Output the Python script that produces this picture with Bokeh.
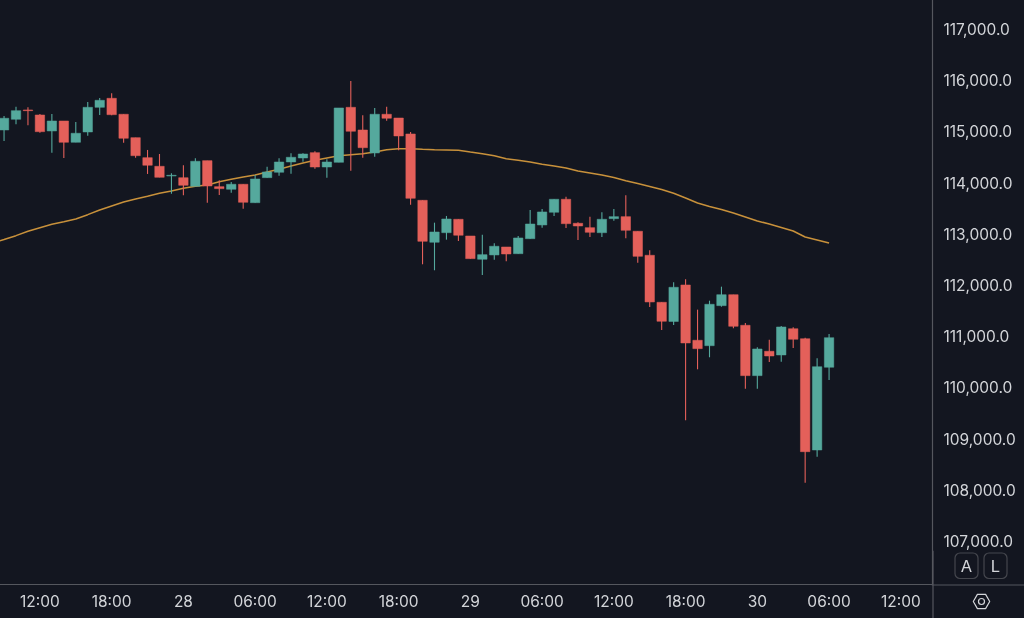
from bokeh.embed import file_html
from bokeh.resources import INLINE
from bokeh.plotting import figure
from bokeh.core.properties import value
from bokeh.models import ColumnDataSource, FixedTicker, NumeralTickFormatter
import math

opens = [115027,115236,115418,115320,115008,115203,114787,114988,115470,115646,115334,114877,114486,114318,114129,114095,113928,114428,113920,113869,113967,113607,114096,114201,114402,114480,114584,114304,114396,115470,115027,114578,115334,115261,114949,113654,112834,113021,113283,112957,112502,112586,112742,112611,112904,113172,113420,113674,113205,113119,113021,113295,113334,113049,112580,111662,111287,112000,110920,110814,111596,111810,111213,110229,110705,110633,111146,110951,108777,110393]
highs = [115300,115482,115470,115340,115340,115203,115183,115574,115652,115744,115334,114877,114637,114558,114181,114338,114474,114428,114045,114012,113967,114148,114310,114474,114572,114572,114611,114455,115457,115984,115314,115457,115482,115261,114988,113654,113217,113348,113283,112957,112982,112814,112742,112957,113465,113484,113674,113725,113225,113334,113420,113484,113752,113049,112678,111662,112053,112111,111518,111693,111967,111810,111258,110783,110932,111199,111174,110971,110568,111043]
lows = [114812,115138,115119,114974,114584,114480,114787,114916,115320,115314,114779,114486,114168,114103,113783,113752,113928,113607,113758,113803,113490,113607,114096,114135,114174,114408,114271,114096,114396,114232,114486,114506,115209,114631,113568,112404,112287,112885,112859,112514,112195,112494,112463,112611,112904,113119,113348,113113,112879,112937,112937,113256,112912,112436,111570,111121,111219,109357,110353,110588,111576,111154,109975,109975,110496,110502,110770,108139,108647,110145]
closes = [115256,115404,115404,114994,115203,114787,114963,115470,115607,115326,114865,114525,114338,114103,114142,113947,114416,113933,113881,113967,113615,114070,114207,114402,114494,114558,114304,114402,115457,115002,114681,115334,115256,114910,113693,112853,113035,113289,112971,112514,112592,112756,112605,112918,113191,113426,113674,113197,113152,113029,113283,113334,113068,112560,111668,111291,111955,110867,110756,111623,111810,111193,110229,110750,110613,111180,110939,108744,110404,110971]
ema = [112889,112963,113049,113119,113185,113236,113289,113373,113465,113543,113621,113680,113732,113791,113836,113889,113928,113953,114017,114064,114109,114148,114207,114260,114324,114383,114435,114480,114525,114545,114564,114597,114642,114662,114662,114650,114642,114637,114631,114597,114564,114525,114467,114435,114402,114357,114324,114285,114226,114187,114148,114099,114037,113982,113924,113865,113791,113699,113601,113533,113474,113406,113328,113250,113191,113123,113054,112937,112879,112820]
ema_before = 112818
time_ticks = [3,9,15,21,27,33,39,45,51,57,63,69,75]
time_labels = ["12:00","18:00","28","06:00","12:00","18:00","29","06:00","12:00","18:00","30","06:00","12:00"]
price_ticks = [107000,108000,109000,110000,111000,112000,113000,114000,115000,116000,117000]
button_labels = ["A", "L"]

BG = "#131620"
UP = "#55A99D"
DOWN = "#E4605A"
LINE = "#55575E"
TXT = "#D3D5D9"
FONT = "Inter"

bars = list(range(len(opens)))
cols = [UP if c >= o else DOWN for o, c in zip(opens, closes)]
src = ColumnDataSource(dict(x=bars, o=opens, h=highs, l=lows, c=closes, col=cols))

# The frame starts 4px outside the window, so its edge hairline stays out of view.
p = figure(width=1028, height=622, output_backend="svg", toolbar_location=None,
           x_range=(-0.631, 77.65), y_range=(106150, 117634),
           y_axis_location="right", min_border=0, min_border_right=92, min_border_bottom=34,
           background_fill_color=BG, border_fill_color=BG, outline_line_color=None)
p.styles = {"position": "fixed", "left": "-4px", "top": "-4px"}
p.grid.visible = False

p.line([-1] + bars, [ema_before] + ema, line_color="#C8913B", line_width=1.5)
p.segment("x", "h", "x", "l", source=src, line_color="col", line_width=1.1)
p.vbar("x", 0.79, "o", "c", source=src, fill_color="col", line_color="col", line_width=0.5)

for ax in (p.xaxis[0], p.yaxis[0]):
    ax.axis_line_color = LINE
    ax.axis_line_width = 1.2
    ax.major_tick_line_color = None
    ax.minor_tick_line_color = None
    ax.major_tick_out = 0
    ax.major_tick_in = 0
    ax.minor_tick_out = 0
    ax.major_label_text_color = TXT
    ax.major_label_text_font = FONT
    ax.major_label_text_font_size = "15.5px"
p.xaxis[0].ticker = FixedTicker(ticks=time_ticks)
p.xaxis[0].major_label_overrides = dict(zip(time_ticks, time_labels))
p.xaxis[0].major_label_standoff = 7
p.yaxis[0].ticker = FixedTicker(ticks=price_ticks)
p.yaxis[0].formatter = NumeralTickFormatter(format="0,0.0")
p.yaxis[0].major_label_standoff = 11

# Bottom-right corner controls: a small figure whose scale is in window pixels.
c = figure(width=93, height=68, output_backend="svg", toolbar_location=None,
           x_range=(931, 1024), y_range=(618, 550), min_border=0, x_axis_type=None, y_axis_type=None,
           background_fill_color=None, border_fill_color=None, outline_line_color=None)
c.styles = {"position": "fixed", "left": "931px", "top": "550px"}
c.grid.visible = False
c.segment([932.5], [550], [932.5], [618], line_color=LINE, line_width=1.2)
c.segment([931], [584.5], [1024], [584.5], line_color=LINE, line_width=1.2)
button_x = [966, 995]
c.quad(left=[x - 11.5 for x in button_x], right=[x + 11.5 for x in button_x], top=[552.5, 552.5], bottom=[578, 578],
       fill_alpha=0, line_color="#45474E", line_width=1.2, border_radius=5)
c.text(button_x, [565.5, 565.5], text=button_labels, text_color=TXT, text_font=value(FONT),
       text_font_size="16.5px", text_align="center", text_baseline="middle")
a = [2 * math.pi * i / 6 for i in range(6)]
c.patch([981 + 8.2 * math.cos(v) for v in a], [601 + 8.2 * math.sin(v) for v in a],
        fill_alpha=0, line_color=TXT, line_width=1.2)
c.scatter([981], [601], size=6, marker="circle", fill_alpha=0, line_color=TXT, line_width=1.2)

open("out.html", "w").write(file_html([p, c], INLINE))
